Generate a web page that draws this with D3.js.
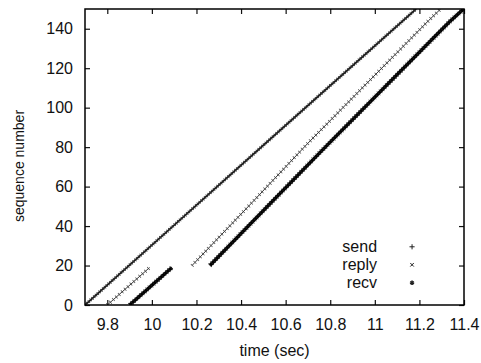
<!DOCTYPE html>
<html>
<head>
<meta charset="utf-8">
<script src="https://cdn.jsdelivr.net/npm/d3@7"></script>
<style>
  body { margin: 0; background: #fff; }
  svg { display: block; font-family: "Liberation Sans", Arial, sans-serif; }
  .axis text { font-size: 16px; fill: #111; }
  .axis line { stroke: #111; stroke-width: 1.2; }
  .axis .domain { display: none; }
</style>
</head>
<body>
<svg id="chart" width="481" height="363"></svg>
<script>
// Data
const xTicks = [9.8, 10, 10.2, 10.4, 10.6, 10.8, 11, 11.2, 11.4];
const xTickLabels = ["9.8", "10", "10.2", "10.4", "10.6", "10.8", "11", "11.2", "11.4"];
const yTicks = [0, 20, 40, 60, 80, 100, 120, 140];

const seriesNames = ["send", "reply", "recv"];

// send: one run
const sendTime = [9.70, 10.115, 10.53, 11.185];
const sendSeq  = [0, 42, 84, 150];
const sendRun  = [0, 0, 0, 0];

// reply: two runs with a gap
const replyTime = [9.80, 9.99, 10.18, 10.45, 10.70, 11.24, 11.295];
const replySeq  = [0, 19, 20, 52, 82, 144, 150];
const replyRun  = [0, 0, 1, 1, 1, 1, 1];

// recv: two runs with a gap
const recvTime = [9.90, 10.09, 10.26, 10.76, 11.335, 11.398];
const recvSeq  = [0, 19, 20, 78, 143.5, 150];
const recvRun  = [0, 0, 1, 1, 1, 1];

document.addEventListener("DOMContentLoaded", function() {

    const svg = d3.select("#chart");
    const margin = {top: 9, right: 17, bottom: 58, left: 85};
    const width = 481, height = 363;
    const w = width - margin.left - margin.right;
    const h = height - margin.top - margin.bottom;

    const x = d3.scaleLinear().domain([9.7, 11.4]).range([0, w]);
    const y = d3.scaleLinear().domain([0, 150]).range([h, 0]);

    const g = svg.append("g")
        .attr("transform", `translate(${margin.left},${margin.top})`);

    g.append("clipPath").attr("id", "plotClip")
        .append("rect").attr("width", w).attr("height", h);

    // Axes (gnuplot style: inward ticks on all four sides)
    g.append("g")
        .attr("class", "axis")
        .attr("transform", `translate(0,${h})`)
        .call(d3.axisBottom(x).tickValues(xTicks)
            .tickFormat((d, i) => xTickLabels[i])
            .tickSizeInner(-5).tickSizeOuter(0).tickPadding(14));

    g.append("g")
        .attr("class", "axis")
        .call(d3.axisTop(x).tickValues(xTicks).tickFormat("")
            .tickSizeInner(-5).tickSizeOuter(0));

    g.append("g")
        .attr("class", "axis")
        .call(d3.axisLeft(y).tickValues(yTicks)
            .tickSizeInner(-5).tickSizeOuter(0).tickPadding(12));

    g.append("g")
        .attr("class", "axis")
        .attr("transform", `translate(${w},0)`)
        .call(d3.axisRight(y).tickValues(yTicks).tickFormat("")
            .tickSizeInner(-5).tickSizeOuter(0));

    // Series
    const line = d3.line().x(d => x(d.t)).y(d => y(d.s));

    function runs(times, seqs, ids) {
        const pts = times.map((t, i) => ({t: t, s: seqs[i], run: ids[i]}));
        return Array.from(d3.group(pts, d => d.run).values());
    }

    const plot = g.append("g").attr("clip-path", "url(#plotClip)");

    // send: fuzzy "+" trail
    runs(sendTime, sendSeq, sendRun).forEach(r => {
        plot.append("path").datum(r).attr("d", line)
            .attr("fill", "none").attr("stroke", "#1a1a1a").attr("stroke-width", 1.8);
        plot.append("path").datum(r).attr("d", line)
            .attr("fill", "none").attr("stroke", "#333")
            .attr("stroke-width", 3.6).attr("stroke-dasharray", "0.8,1.6");
    });

    // reply: thin line with small "x" ticks
    runs(replyTime, replySeq, replyRun).forEach(r => {
        plot.append("path").datum(r).attr("d", line)
            .attr("fill", "none").attr("stroke", "#222").attr("stroke-width", 0.9);
        plot.append("path").datum(r).attr("d", line)
            .attr("fill", "none").attr("stroke", "#444")
            .attr("stroke-width", 4).attr("stroke-dasharray", "0.7,3.2");
    });

    // recv: thick "*" trail
    runs(recvTime, recvSeq, recvRun).forEach(r => {
        plot.append("path").datum(r).attr("d", line)
            .attr("fill", "none").attr("stroke", "#000").attr("stroke-width", 3.4);
        plot.append("path").datum(r).attr("d", line)
            .attr("fill", "none").attr("stroke", "#222")
            .attr("stroke-width", 5).attr("stroke-dasharray", "0.7,2.2");
    });

    // Frame
    g.append("rect")
        .attr("width", w).attr("height", h)
        .attr("fill", "none").attr("stroke", "#000").attr("stroke-width", 1.5);

    // Legend
    const symbols = [d3.symbolPlus, d3.symbolX, d3.symbolAsterisk];
    const legend = g.append("g").attr("transform", `translate(${x(11.01)},${y(29.5)})`);
    seriesNames.forEach((name, i) => {
        const row = legend.append("g").attr("transform", `translate(0,${i * 18})`);
        row.append("text")
            .attr("text-anchor", "end")
            .attr("dy", "0.35em")
            .style("font-size", "16px")
            .attr("fill", "#111")
            .text(name);
        row.append("path")
            .attr("transform", "translate(35,0)")
            .attr("d", d3.symbol().type(symbols[i]).size(i === 2 ? 14 : 10)())
            .attr("fill", "none").attr("stroke", "#222")
            .attr("stroke-width", i === 2 ? 1.6 : 1);
    });

    // Axis titles
    svg.append("text")
        .attr("x", margin.left + w / 2)
        .attr("y", 356)
        .attr("text-anchor", "middle")
        .style("font-size", "16px")
        .attr("fill", "#111")
        .text("time (sec)");

    svg.append("text")
        .attr("transform", "translate(24,166) rotate(-90)")
        .attr("text-anchor", "middle")
        .style("font-size", "14px")
        .attr("fill", "#111")
        .text("sequence number");
});
</script>
</body>
</html>
